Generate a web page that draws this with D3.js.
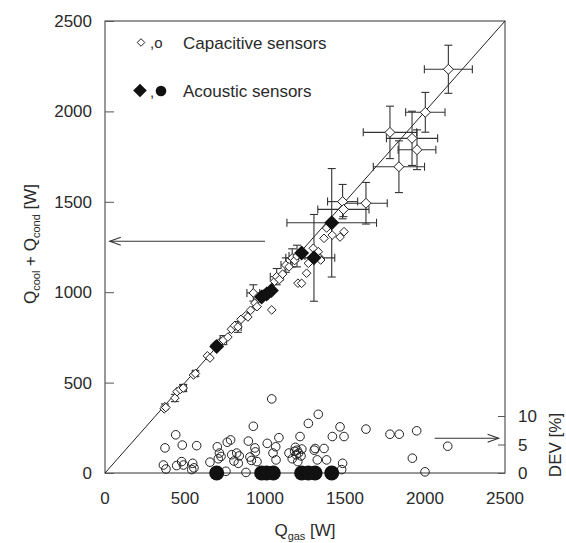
<!DOCTYPE html>
<html>
<head>
<meta charset="utf-8">
<script src="https://cdn.jsdelivr.net/npm/d3@7"></script>
<style>
  body { margin: 0; background: #fff; }
  text { font-family: "Liberation Sans", Arial, sans-serif; fill: #2a2a2a; }
</style>
</head>
<body>
<svg width="566" height="543"></svg>
<script>
// capacitive sensors: Q_gas, Q_cool+Q_cond, error x, error y
const capGas = [370, 375, 380, 437, 450, 470, 489, 553, 565, 640, 656, 690, 720, 740, 768, 790, 810, 831, 850, 880, 893, 910, 927, 937, 950, 960, 990, 1020, 1042, 1060, 1073, 1090, 1110, 1130, 1150, 1170, 1185, 1200, 1206, 1229, 1260, 1271, 1302, 1333, 1344, 1348, 1369, 1385, 1420, 1469, 1494, 1485, 1490, 1631, 1781, 1837, 1919, 1950, 2002, 2146];
const capOut = [355, 367, 362, 415, 450, 462, 470, 542, 550, 648, 636, 710, 725, 735, 752, 795, 815, 808, 850, 870, 863, 900, 996, 940, 920, 965, 990, 985, 902, 1060, 1086, 1070, 1100, 1150, 1140, 1190, 1175, 1200, 1050, 1049, 1105, 1160, 1243, 1224, 1189, 1178, 1298, 1355, 1316, 1305, 1335, 1501, 1458, 1492, 1884, 1694, 1851, 1788, 1995, 2233];
const capErrX = [0, 0, 0, 0, 0, 0, 20, 0, 15, 0, 0, 0, 0, 20, 0, 0, 0, 20, 0, 0, 0, 0, 40, 0, 0, 0, 0, 0, 0, 0, 40, 0, 0, 30, 0, 40, 0, 50, 0, 0, 0, 0, 0, 0, 0, 0, 0, 0, 0, 0, 0, 94, 160, 133, 167, 160, 160, 118, 123, 150];
const capErrY = [0, 15, 0, 20, 0, 0, 20, 0, 15, 0, 0, 0, 0, 25, 0, 0, 0, 30, 0, 0, 0, 0, 45, 0, 0, 0, 0, 0, 0, 0, 45, 0, 0, 40, 0, 50, 0, 60, 0, 0, 0, 0, 0, 0, 0, 0, 0, 0, 0, 0, 0, 95, 40, 115, 145, 143, 150, 110, 110, 133];

// acoustic sensors
const acGas = [698, 979, 1010, 1040, 1229, 1306, 1417];
const acOut = [700, 973, 990, 1010, 1217, 1190, 1384];
const acErrX = [0, 0, 0, 0, 0, 130, 280];
const acErrY = [0, 0, 0, 0, 0, 240, 300];

// deviation [%] of capacitive sensors
const devCapGas = [365, 375, 381, 442, 448, 479, 483, 490, 542, 548, 556, 573, 656, 702, 708, 715, 725, 756, 764, 785, 792, 806, 823, 833, 839, 881, 896, 906, 915, 927, 937, 940, 950, 1014, 1042, 1050, 1067, 1069, 1087, 1150, 1170, 1185, 1190, 1195, 1200, 1205, 1210, 1219, 1225, 1230, 1271, 1308, 1313, 1327, 1333, 1369, 1385, 1421, 1469, 1479, 1485, 1494, 1631, 1781, 1839, 1921, 1948, 2000, 2142];
const devCap = [1.4, 4.4, 0.7, 6.7, 1.3, 2.0, 4.9, 1.4, 0.6, 1.7, 0.9, 4.8, 1.9, 4.6, 2.5, 3.5, 2.9, 0.3, 5.4, 5.8, 3.2, 2.1, 3.5, 1.7, 3.0, 0.1, 5.6, 2.8, 2.2, 8.2, 4.4, 3.7, 2.0, 5.2, 13.0, 3.5, 4.6, 2.3, 6.2, 3.5, 2.5, 3.8, 4.5, 3.2, 4.0, 2.0, 3.5, 6.4, 3.0, 4.2, 8.7, 4.0, 4.3, 2.3, 10.3, 4.3, 2.3, 6.4, 8.1, 0.6, 1.7, 6.4, 7.7, 6.8, 6.8, 2.6, 7.4, 0.2, 4.7];
// deviation of acoustic sensors
const devAcGas = [698, 979, 1010, 1052, 1229, 1271, 1313, 1417];
const devAc = [0, 0, 0, 0, 0, 0, 0, 0];

const qTicks = [0, 500, 1000, 1500, 2000, 2500];
const devTicks = [0, 5, 10];

const svg = d3.select('svg');
const m = { top: 21, right: 61, bottom: 70, left: 105 };
const width = +svg.attr('width') - m.left - m.right;
const height = +svg.attr('height') - m.top - m.bottom;
const g = svg.append('g').attr('transform', `translate(${m.left}, ${m.top})`);

const x = d3.scaleLinear().domain([0, 2500]).range([0, width]);
const y = d3.scaleLinear().domain([0, 2500]).range([height, 0]);
const yd = d3.scaleLinear().domain([0, 10]).range([height, height - 57]);

const diamond = r => `M0,${-r}L${r},0L0,${r}L${-r},0Z`;

// frame
g.append('rect')
  .attr('width', width)
  .attr('height', height)
  .attr('fill', 'none')
  .attr('stroke', '#555')
  .attr('stroke-width', 1.2);

// left axis, ticks inward
g.append('g')
  .call(d3.axisRight(y).tickValues(qTicks).tickSize(9).tickFormat(''))
  .call(a => a.select('.domain').remove())
  .selectAll('line').attr('stroke', '#555');
g.selectAll('.ylab')
  .data(qTicks)
  .enter().append('text')
  .attr('x', -13)
  .attr('y', d => y(d) + 6)
  .attr('text-anchor', 'end')
  .attr('font-size', 17)
  .text(d => d);

// bottom labels
g.selectAll('.xlab')
  .data(qTicks)
  .enter().append('text')
  .attr('x', d => x(d))
  .attr('y', height + 31)
  .attr('text-anchor', 'middle')
  .attr('font-size', 17)
  .text(d => d);

// DEV axis on right
g.append('g')
  .attr('transform', `translate(${width}, 0)`)
  .call(d3.axisLeft(yd).tickValues(devTicks).tickSize(7).tickFormat(''))
  .call(a => a.select('.domain').remove())
  .selectAll('line').attr('stroke', '#555');
g.selectAll('.dlab')
  .data(devTicks)
  .enter().append('text')
  .attr('x', width + 13)
  .attr('y', d => yd(d) + 6)
  .attr('font-size', 17)
  .text(d => d);

// 1:1 line
g.append('line')
  .attr('x1', x(0)).attr('y1', y(0))
  .attr('x2', x(2500)).attr('y2', y(2500))
  .attr('stroke', '#222')
  .attr('stroke-width', 1);

// error bars
function errBars(gx, gy, ex, ey) {
  const eb = g.append('g').attr('stroke', '#333').attr('stroke-width', 1.1);
  gx.forEach((v, i) => {
    const cx = x(v), cy = y(gy[i]);
    if (ex[i]) {
      const a = x(v - ex[i]), b = x(v + ex[i]);
      eb.append('line').attr('x1', a).attr('x2', b).attr('y1', cy).attr('y2', cy);
      eb.append('line').attr('x1', a).attr('x2', a).attr('y1', cy - 4).attr('y2', cy + 4);
      eb.append('line').attr('x1', b).attr('x2', b).attr('y1', cy - 4).attr('y2', cy + 4);
    }
    if (ey[i]) {
      const a = y(gy[i] - ey[i]), b = y(gy[i] + ey[i]);
      eb.append('line').attr('x1', cx).attr('x2', cx).attr('y1', a).attr('y2', b);
      eb.append('line').attr('x1', cx - 4).attr('x2', cx + 4).attr('y1', a).attr('y2', a);
      eb.append('line').attr('x1', cx - 4).attr('x2', cx + 4).attr('y1', b).attr('y2', b);
    }
  });
}
errBars(capGas, capOut, capErrX, capErrY);
errBars(acGas, acOut, acErrX, acErrY);

// deviation circles
g.selectAll('.dc')
  .data(devCapGas)
  .enter().append('circle')
  .attr('cx', d => x(d))
  .attr('cy', (d, i) => yd(devCap[i]))
  .attr('r', 4.3)
  .attr('fill', 'none')
  .attr('stroke', '#222')
  .attr('stroke-width', 1);
g.selectAll('.da')
  .data(devAcGas)
  .enter().append('circle')
  .attr('cx', d => x(d))
  .attr('cy', (d, i) => yd(devAc[i]))
  .attr('r', 7.5)
  .attr('fill', '#111');

// capacitive diamonds
g.selectAll('.cap')
  .data(capGas)
  .enter().append('path')
  .attr('d', (d, i) => diamond(i > 50 ? 5 : 4.3))
  .attr('transform', (d, i) => `translate(${x(d)}, ${y(capOut[i])})`)
  .attr('fill', '#fff')
  .attr('stroke', '#222')
  .attr('stroke-width', 1);

// acoustic diamonds
g.selectAll('.ac')
  .data(acGas)
  .enter().append('path')
  .attr('d', diamond(7.5))
  .attr('transform', (d, i) => `translate(${x(d)}, ${y(acOut[i])})`)
  .attr('fill', '#111');

// arrows
function arrow(x1, y1, x2, y2) {
  const dir = Math.sign(x2 - x1);
  const a = g.append('g').attr('stroke', '#333').attr('stroke-width', 1.1).attr('fill', 'none');
  a.append('line').attr('x1', x1).attr('y1', y1).attr('x2', x2).attr('y2', y2);
  a.append('path').attr('d', `M${x2 - dir * 11},${y2 - 4}L${x2},${y2}L${x2 - dir * 11},${y2 + 4}`);
}
arrow(x(1000), y(1282), x(30), y(1282));
arrow(x(2060), yd(6.1), x(2460), yd(6.1));

// legend
g.append('path')
  .attr('d', diamond(3.8))
  .attr('transform', 'translate(36, 21.5)')
  .attr('fill', '#fff')
  .attr('stroke', '#222');
g.append('text').attr('x', 45).attr('y', 27).attr('font-size', 15).text(',o');
g.append('text').attr('x', 78).attr('y', 28).attr('font-size', 17).text('Capacitive  sensors');
g.append('path')
  .attr('d', diamond(6.8))
  .attr('transform', 'translate(35, 69.5)')
  .attr('fill', '#111');
g.append('text').attr('x', 45).attr('y', 76).attr('font-size', 15).text(',');
g.append('circle').attr('cx', 56).attr('cy', 70).attr('r', 5.3).attr('fill', '#111');
g.append('text').attr('x', 78).attr('y', 76).attr('font-size', 17).text('Acoustic  sensors');

// axis titles
const yt = svg.append('text')
  .attr('transform', 'translate(36, 244) rotate(-90)')
  .attr('text-anchor', 'middle')
  .attr('font-size', 17);
yt.append('tspan').text('Q');
yt.append('tspan').attr('font-size', 11).attr('dy', 4).text('cool');
yt.append('tspan').attr('dy', -4).text(' + Q');
yt.append('tspan').attr('font-size', 11).attr('dy', 4).text('cond');
yt.append('tspan').attr('dy', -4).text(' [W]');

const xt = svg.append('text')
  .attr('x', 305)
  .attr('y', 536)
  .attr('text-anchor', 'middle')
  .attr('font-size', 17);
xt.append('tspan').text('Q');
xt.append('tspan').attr('font-size', 11).attr('dy', 4).text('gas');
xt.append('tspan').attr('dy', -4).text(' [W]');

svg.append('text')
  .attr('transform', 'translate(561, 445) rotate(-90)')
  .attr('text-anchor', 'middle')
  .attr('font-size', 17)
  .text('DEV [%]');
</script>
</body>
</html>
